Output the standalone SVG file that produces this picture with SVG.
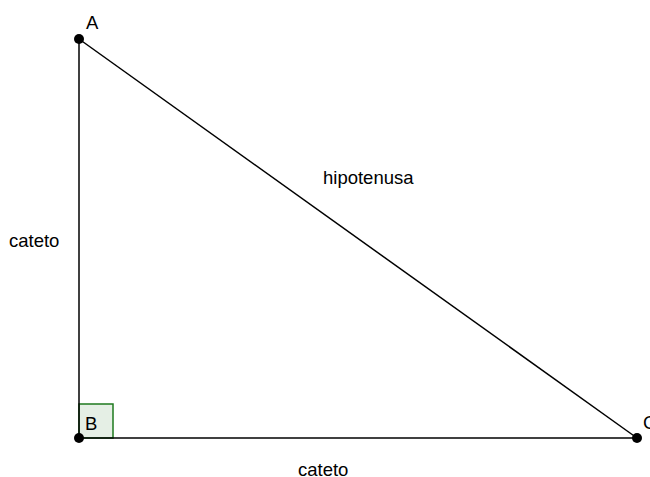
<svg xmlns="http://www.w3.org/2000/svg" width="650" height="477" viewBox="0 0 650 477">
<style>
.t{font-family:"Liberation Sans",Arial,sans-serif;font-size:18.5px;fill:#000}
.e{stroke:#000;stroke-width:1.5;fill:none}
.p{fill:#000}
</style>
<rect width="650" height="477" fill="#fff"/>
<g id="angle"><rect x="79" y="404" width="34" height="34" fill="#e5efe5" stroke="#1e7a1e" stroke-width="1.5"/></g>
<g id="connectors">
<line class="e" x1="79" y1="39" x2="79" y2="438"/>
<line class="e" x1="79" y1="438" x2="637" y2="438"/>
<line class="e" x1="79" y1="39" x2="637" y2="438"/>
</g>
<g id="A"><circle class="p" cx="79" cy="39" r="5"/><text class="t" x="86" y="29">A</text></g>
<g id="B"><circle class="p" cx="79" cy="438" r="5"/><text class="t" x="85" y="430">B</text></g>
<g id="C"><circle class="p" cx="637" cy="438" r="5"/><text class="t" x="643" y="429">C</text></g>
<g id="labels">
<text class="t" x="9" y="247">cateto</text>
<text class="t" x="323" y="184">hipotenusa</text>
<text class="t" x="298" y="476">cateto</text>
</g>
</svg>
